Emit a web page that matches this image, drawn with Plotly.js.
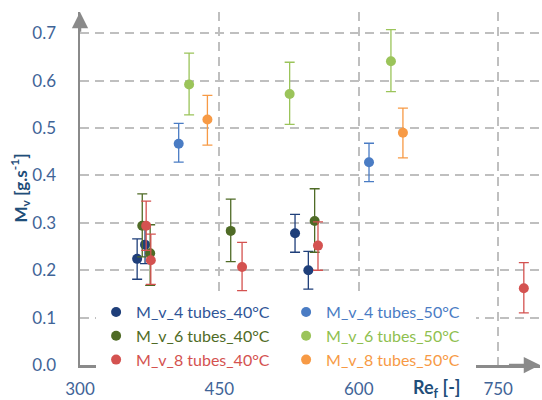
<!DOCTYPE html>
<html>
<head>
<meta charset="utf-8">
<script src="https://cdn.plot.ly/plotly-3.0.1.min.js"></script>
<style>html,body{margin:0;padding:0;background:#fff;}#chart{width:542px;height:400px;}</style>
</head>
<body>
<div id="chart"></div>
<script>
// ---- data ----
var seriesNames = ["M_v_4 tubes_40°C", "M_v_4 tubes_50°C", "M_v_6 tubes_40°C", "M_v_6 tubes_50°C", "M_v_8 tubes_40°C", "M_v_8 tubes_50°C"];

var re_4t40 = [361.5, 370, 531.4, 545.7];
var mv_4t40 = [0.224, 0.254, 0.278, 0.200];
var up_4t40 = [0.042, 0.042, 0.040, 0.040];
var dn_4t40 = [0.043, 0.040, 0.040, 0.040];

var re_4t50 = [406.2, 611];
var mv_4t50 = [0.467, 0.428];
var up_4t50 = [0.043, 0.040];
var dn_4t50 = [0.039, 0.041];

var re_6t40 = [367, 375.5, 462.2, 552.5];
var mv_6t40 = [0.294, 0.236, 0.283, 0.304];
var up_6t40 = [0.067, 0.060, 0.067, 0.068];
var dn_6t40 = [0.066, 0.068, 0.065, 0.066];

var re_6t50 = [417.4, 525.6, 634.6];
var mv_6t50 = [0.592, 0.572, 0.641];
var up_6t50 = [0.066, 0.067, 0.067];
var dn_6t50 = [0.064, 0.064, 0.064];

var re_8t40 = [371.2, 376.2, 474.4, 556.1, 777.6];
var mv_8t40 = [0.294, 0.221, 0.207, 0.252, 0.162];
var up_8t40 = [0.052, 0.055, 0.052, 0.050, 0.054];
var dn_8t40 = [0.052, 0.051, 0.050, 0.052, 0.052];

var re_8t50 = [437.1, 647.5];
var mv_8t50 = [0.518, 0.490];
var up_8t50 = [0.051, 0.052];
var dn_8t50 = [0.054, 0.053];

var xTicks = [300, 450, 600, 750];
var yTicks = [0.0, 0.1, 0.2, 0.3, 0.4, 0.5, 0.6, 0.7];

// ---- styles ----
var markerColors = ["#1f3f7a", "#4a7cc4", "#4f6b26", "#9bc45a", "#d45250", "#f79a45"];
var textColors   = ["#2f5597", "#4a7cc4", "#4f6b26", "#8fbf4f", "#d45250", "#f79a45"];

var xs = [re_4t40, re_4t50, re_6t40, re_6t50, re_8t40, re_8t50];
var ys = [mv_4t40, mv_4t50, mv_6t40, mv_6t50, mv_8t40, mv_8t50];
var ups = [up_4t40, up_4t50, up_6t40, up_6t50, up_8t40, up_8t50];
var dns = [dn_4t40, dn_4t50, dn_6t40, dn_6t50, dn_8t40, dn_8t50];

var traces = [];
for (var i = 0; i < seriesNames.length; i++) {
  traces.push({
    type: "scatter",
    mode: "markers",
    x: xs[i],
    y: ys[i],
    name: '<span style="color:' + textColors[i] + '">' + seriesNames[i] + '</span>',
    marker: {color: markerColors[i], size: 10},
    error_y: {type: "data", symmetric: false, array: ups[i], arrayminus: dns[i],
              color: markerColors[i], thickness: 1.3, width: 5}
  });
}

var fontFam = "Lato, 'Open Sans', sans-serif";
var layout = {
  width: 542, height: 400,
  margin: {l: 80, r: 2, t: 12, b: 35},
  paper_bgcolor: "#fff", plot_bgcolor: "#fff",
  font: {family: fontFam, size: 16, color: "#3f6497"},
  showlegend: true,
  legend: {
    orientation: "h",
    x: 0.035, y: 0.198, xanchor: "left", yanchor: "top",
    bgcolor: "#fff",
    entrywidth: 145,
    font: {family: fontFam, size: 16},
    tracegroupgap: 0
  },
  xaxis: {
    range: [300, 795],
    tickvals: xTicks,
    ticktext: xTicks.map(String),
    showline: true, linecolor: "#8a8a8a", linewidth: 2.5,
    showgrid: true, gridcolor: "#bfbfbf", gridwidth: 2, griddash: "9px,6px",
    zeroline: false,
    ticks: "", ticklabelstandoff: 7,
    tickfont: {family: fontFam, size: 17, color: "#3f6497"}
  },
  yaxis: {
    range: [0, 0.745],
    tickvals: yTicks,
    ticktext: yTicks.map(function(v){return v.toFixed(1);}),
    showline: true, linecolor: "#8a8a8a", linewidth: 2.5,
    showgrid: true, gridcolor: "#bfbfbf", gridwidth: 2, griddash: "9px,6px",
    zeroline: false,
    ticks: "", ticklabelstandoff: 18,
    tickfont: {family: fontFam, size: 17, color: "#3f6497"}
  },
  annotations: [
    {xref: "x", yref: "y", axref: "x", ayref: "y", x: 795, y: 0, ax: 760, ay: 0,
     text: "", showarrow: true, arrowhead: 2, arrowsize: 1.3, arrowwidth: 2.5, arrowcolor: "#8a8a8a", standoff: 0},
    {xref: "x", yref: "y", axref: "x", ayref: "y", x: 300, y: 0.745, ax: 300, ay: 0.70,
     text: "", showarrow: true, arrowhead: 2, arrowsize: 1.3, arrowwidth: 2.5, arrowcolor: "#8a8a8a", standoff: 0},
    {xref: "paper", yref: "paper", x: 0, y: 0.5, xshift: -60, textangle: -90,
     xanchor: "center", yanchor: "middle", showarrow: false,
     text: "<b>M<sub>v</sub> [g.s<sup>-1</sup>]</b>",
     font: {family: fontFam, size: 17, color: "#1f4e79"}},
    {xref: "paper", yref: "paper", x: 0.776, y: 0, yshift: -23,
     xanchor: "center", yanchor: "middle", showarrow: false,
     text: "<b>Re<sub>f</sub> [-]</b>",
     font: {family: fontFam, size: 18, color: "#1f4e79"}}
  ]
};

Plotly.newPlot("chart", traces, layout, {displayModeBar: false, staticPlot: true});
</script>
</body>
</html>
